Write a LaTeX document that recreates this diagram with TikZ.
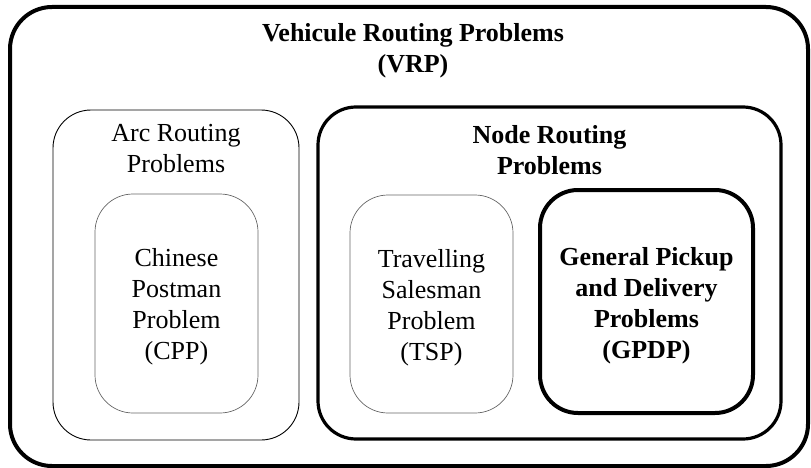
\documentclass[tikz,border=0pt]{standalone}
\usepackage{fontspec}
\setmainfont{Liberation Serif}
\usepackage{tikz}
\usetikzlibrary{positioning}

\tikzset{
  box/.style={draw,rounded corners=38pt,inner sep=0pt},
  thinbox/.style={box,draw=black!60,line width=.7pt},
  txt/.style={align=center,inner sep=0pt,font=\fontsize{26}{31}\selectfont},
  btxt/.style={txt,font=\fontsize{26}{31}\selectfont\bfseries}
}

\begin{document}
\begin{tikzpicture}[x=1pt,y=-1pt]
        \useasboundingbox (0,0) rectangle (811,468);

        \node[box,line width=4pt,rounded corners=42pt,minimum width=798pt,minimum height=459pt] (vrp) at (409,236.5) {};
        \node[box,line width=.9pt,minimum width=246pt,minimum height=330pt] (arc) at (176,275) {};
        \node[thinbox,minimum width=163pt,minimum height=219pt] (cpp) at (176.5,303.5) {};
        \node[box,line width=3.2pt,minimum width=463pt,minimum height=332pt] (nrp) at (549.5,273) {};
        \node[thinbox,minimum width=163pt,minimum height=218pt] (tsp) at (431.5,304) {};
        \node[box,line width=4pt,minimum width=213pt,minimum height=223pt] (gpdp) at (646.5,301.5) {};

        \node[btxt,below=18pt of vrp.north,xshift=4pt] (vrptext) {Vehicule Routing Problems\\(VRP)};
        \node[txt,below=15pt of arc.north] (arctext) {Arc Routing\\Problems};
        \node[btxt,below=20pt of nrp.north] (nrptext) {Node Routing\\Problems};
        \node[txt] (cpptext) at ([yshift=-3.5pt]cpp.center) {Chinese\\Postman\\Problem\\(CPP)};
        \node[txt] (tsptext) at ([yshift=-4pt]tsp.center) {Travelling\\Salesman\\Problem\\(TSP)};
        \node[btxt] (gpdptext) at ([yshift=-4pt]gpdp.center) {General Pickup\\and Delivery\\Problems\\(GPDP)};
      \end{tikzpicture}
\end{document}
